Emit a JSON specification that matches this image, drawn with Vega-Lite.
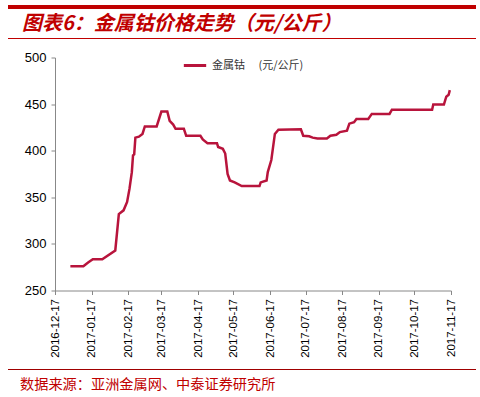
{
  "$schema": "https://vega.github.io/schema/vega-lite/v6.json",
  "padding": {"left": 6, "top": 5, "right": 0, "bottom": 0},
  "background": "white",
  "spacing": 11.5,
  "resolve": {"legend": {"color": "independent"}},
  "config": {
    "font": "Liberation Sans",
    "title": {"font": "Noto Sans CJK SC"}
  },
  "datasets": {
    "band": [{"start": 0, "end": 1}],
    "cobalt": [
      {"date": "2016-12-30", "price": 276, "series": "金属钴"},
      {"date": "2017-01-10", "price": 276, "series": "金属钴"},
      {"date": "2017-01-14", "price": 280, "series": "金属钴"},
      {"date": "2017-01-18", "price": 283.5, "series": "金属钴"},
      {"date": "2017-01-26", "price": 283.5, "series": "金属钴"},
      {"date": "2017-02-06", "price": 293, "series": "金属钴"},
      {"date": "2017-02-09", "price": 332, "series": "金属钴"},
      {"date": "2017-02-13", "price": 336, "series": "金属钴"},
      {"date": "2017-02-16", "price": 345, "series": "金属钴"},
      {"date": "2017-02-18", "price": 359, "series": "金属钴"},
      {"date": "2017-02-20", "price": 377, "series": "金属钴"},
      {"date": "2017-02-21", "price": 395, "series": "金属钴"},
      {"date": "2017-02-22", "price": 396, "series": "金属钴"},
      {"date": "2017-02-23", "price": 414, "series": "金属钴"},
      {"date": "2017-02-26", "price": 415, "series": "金属钴"},
      {"date": "2017-03-01", "price": 418, "series": "金属钴"},
      {"date": "2017-03-03", "price": 426, "series": "金属钴"},
      {"date": "2017-03-13", "price": 426, "series": "金属钴"},
      {"date": "2017-03-17", "price": 442, "series": "金属钴"},
      {"date": "2017-03-22", "price": 442, "series": "金属钴"},
      {"date": "2017-03-24", "price": 432, "series": "金属钴"},
      {"date": "2017-03-27", "price": 428, "series": "金属钴"},
      {"date": "2017-03-29", "price": 423.5, "series": "金属钴"},
      {"date": "2017-04-05", "price": 423.5, "series": "金属钴"},
      {"date": "2017-04-07", "price": 416, "series": "金属钴"},
      {"date": "2017-04-19", "price": 416, "series": "金属钴"},
      {"date": "2017-04-21", "price": 412, "series": "金属钴"},
      {"date": "2017-04-25", "price": 408, "series": "金属钴"},
      {"date": "2017-05-03", "price": 408, "series": "金属钴"},
      {"date": "2017-05-04", "price": 404, "series": "金属钴"},
      {"date": "2017-05-08", "price": 402, "series": "金属钴"},
      {"date": "2017-05-10", "price": 397, "series": "金属钴"},
      {"date": "2017-05-12", "price": 375, "series": "金属钴"},
      {"date": "2017-05-14", "price": 368, "series": "金属钴"},
      {"date": "2017-05-18", "price": 366, "series": "金属钴"},
      {"date": "2017-05-24", "price": 362, "series": "金属钴"},
      {"date": "2017-06-08", "price": 362, "series": "金属钴"},
      {"date": "2017-06-09", "price": 366, "series": "金属钴"},
      {"date": "2017-06-14", "price": 368, "series": "金属钴"},
      {"date": "2017-06-15", "price": 377, "series": "金属钴"},
      {"date": "2017-06-18", "price": 390, "series": "金属钴"},
      {"date": "2017-06-21", "price": 418, "series": "金属钴"},
      {"date": "2017-06-24", "price": 422.5, "series": "金属钴"},
      {"date": "2017-07-13", "price": 423, "series": "金属钴"},
      {"date": "2017-07-15", "price": 416, "series": "金属钴"},
      {"date": "2017-07-20", "price": 415.5, "series": "金属钴"},
      {"date": "2017-07-23", "price": 414, "series": "金属钴"},
      {"date": "2017-07-27", "price": 413, "series": "金属钴"},
      {"date": "2017-08-04", "price": 413, "series": "金属钴"},
      {"date": "2017-08-07", "price": 416, "series": "金属钴"},
      {"date": "2017-08-12", "price": 417, "series": "金属钴"},
      {"date": "2017-08-15", "price": 420, "series": "金属钴"},
      {"date": "2017-08-21", "price": 421.5, "series": "金属钴"},
      {"date": "2017-08-23", "price": 429, "series": "金属钴"},
      {"date": "2017-08-27", "price": 430.5, "series": "金属钴"},
      {"date": "2017-08-29", "price": 434, "series": "金属钴"},
      {"date": "2017-09-08", "price": 434, "series": "金属钴"},
      {"date": "2017-09-11", "price": 439.5, "series": "金属钴"},
      {"date": "2017-09-26", "price": 439.5, "series": "金属钴"},
      {"date": "2017-09-28", "price": 444, "series": "金属钴"},
      {"date": "2017-11-01", "price": 444, "series": "金属钴"},
      {"date": "2017-11-02", "price": 449.5, "series": "金属钴"},
      {"date": "2017-11-11", "price": 449.5, "series": "金属钴"},
      {"date": "2017-11-13", "price": 458, "series": "金属钴"},
      {"date": "2017-11-15", "price": 460, "series": "金属钴"},
      {"date": "2017-11-16", "price": 465, "series": "金属钴"}
    ]
  },
  "vconcat": [
    {
      "spacing": 4,
      "vconcat": [
        {
          "width": 396,
          "height": 4,
          "data": {"name": "band"},
          "mark": {"type": "rule", "color": "#C00000", "strokeWidth": 4, "clip": false},
          "encoding": {
            "x": {"field": "start", "type": "quantitative", "scale": {"domain": [0, 1], "range": [-47, 421]}, "axis": null},
            "x2": {"field": "end"},
            "y": {"field": "start", "type": "quantitative", "scale": {"domain": [-1, 1]}, "axis": null}
          },
          "view": {"stroke": null}
        },
        {
          "width": 396,
          "height": 1,
          "data": {"name": "band"},
          "mark": {"type": "rule", "color": "#C00000", "strokeWidth": 1.2, "clip": false},
          "encoding": {
            "x": {"field": "start", "type": "quantitative", "scale": {"domain": [0, 1], "range": [-47, 421]}, "axis": null},
            "x2": {"field": "end"},
            "y": {"field": "start", "type": "quantitative", "scale": {"domain": [-1, 1]}, "axis": null}
          },
          "view": {"stroke": null},
          "title": {
            "text": "图表6：金属钴价格走势（元/公斤）",
            "anchor": "start",
            "frame": "group",
            "dx": -33,
            "fontSize": 20,
            "fontWeight": "bold",
            "fontStyle": "italic",
            "color": "#C00000",
            "offset": 4
          }
        }
      ]
    },
    {
      "width": 396,
      "height": 233,
      "data": {"name": "cobalt"},
      "mark": {"type": "line", "strokeWidth": 2.5, "color": "#B8143C"},
      "view": {"stroke": null},
      "encoding": {
        "x": {
          "field": "date",
          "type": "temporal",
          "scale": {
            "type": "utc",
            "domain": [
              {"year": 2016, "month": 12, "date": 17, "utc": true},
              {"year": 2017, "month": 11, "date": 17, "utc": true}
            ]
          },
          "axis": {
            "title": null,
            "values": [
              {"year": 2016, "month": 12, "date": 17, "utc": true},
              {"year": 2017, "month": 1, "date": 17, "utc": true},
              {"year": 2017, "month": 2, "date": 17, "utc": true},
              {"year": 2017, "month": 3, "date": 17, "utc": true},
              {"year": 2017, "month": 4, "date": 17, "utc": true},
              {"year": 2017, "month": 5, "date": 17, "utc": true},
              {"year": 2017, "month": 6, "date": 17, "utc": true},
              {"year": 2017, "month": 7, "date": 17, "utc": true},
              {"year": 2017, "month": 8, "date": 17, "utc": true},
              {"year": 2017, "month": 9, "date": 17, "utc": true},
              {"year": 2017, "month": 10, "date": 17, "utc": true},
              {"year": 2017, "month": 11, "date": 17, "utc": true}
            ],
            "labelExpr": "utcFormat(datum.value, '%Y-%m-%d')",
            "labelAngle": 270,
            "labelFontSize": 11.5,
            "labelColor": "#000000",
            "labelPadding": 4,
            "labelFlush": false,
            "labelOverlap": false,
            "grid": false,
            "domainColor": "#888888",
            "tickColor": "#888888",
            "tickSize": 4
          }
        },
        "y": {
          "field": "price",
          "type": "quantitative",
          "scale": {"domain": [250, 500], "nice": false, "zero": false},
          "axis": {
            "title": null,
            "values": [250, 300, 350, 400, 450, 500],
            "labelFontSize": 13,
            "labelColor": "#000000",
            "labelPadding": 5,
            "grid": false,
            "domainColor": "#888888",
            "tickColor": "#888888",
            "tickSize": 4,
            "minExtent": 47
          }
        },
        "color": {
          "field": "series",
          "type": "nominal",
          "scale": {"range": ["#B8143C"]},
          "legend": {
            "title": null,
            "orient": "none",
            "legendX": 127,
            "legendY": -5,
            "symbolType": "stroke",
            "symbolSize": 500,
            "symbolStrokeWidth": 3,
            "labelFont": "Noto Sans CJK SC",
            "labelFontSize": 11,
            "labelColor": "#333333",
            "labelExpr": "datum.label + '\u3000\u00a0(元/公斤)'"
          }
        }
      }
    },
    {
      "width": 396,
      "height": 1,
      "data": {"name": "band"},
      "mark": {"type": "rule", "color": "#A00000", "strokeWidth": 1, "clip": false},
      "encoding": {
        "x": {"field": "start", "type": "quantitative", "scale": {"domain": [0, 1], "range": [-47, 421]}, "axis": null},
        "x2": {"field": "end"},
        "y": {"field": "start", "type": "quantitative", "scale": {"domain": [-1, 1]}, "axis": null}
      },
      "view": {"stroke": null},
      "title": {
        "text": "数据来源：亚洲金属网、中泰证券研究所",
        "orient": "bottom",
        "anchor": "start",
        "frame": "group",
        "dx": -35,
        "fontSize": 14.2,
        "fontWeight": "normal",
        "color": "#C00000",
        "offset": 8
      }
    }
  ]
}
